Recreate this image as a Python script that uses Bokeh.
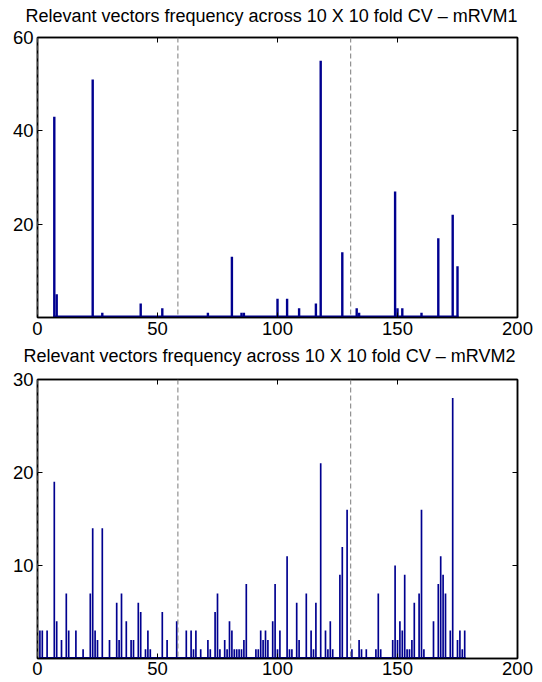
from bokeh.plotting import figure
from bokeh.layouts import column
from bokeh.models import Range1d, LinearAxis, FixedTicker, Span
from bokeh.embed import file_html
from bokeh.resources import INLINE

# ---------------- data ----------------
titles = [
    "Relevant vectors frequency across 10 X 10 fold CV \u2013 mRVM1",
    "Relevant vectors frequency across 10 X 10 fold CV \u2013 mRVM2",
]

top_idx = [7, 8, 23, 27, 43, 52, 71, 81, 85, 86, 100, 104, 109, 116, 118,
           127, 133, 134, 149, 150, 152, 160, 167, 173, 175]
top_val = [43, 5, 51, 1, 3, 2, 1, 13, 1, 1, 4, 4, 2, 3, 55,
           14, 2, 1, 27, 2, 2, 1, 17, 22, 11]

bot_idx = [1, 2, 4, 7, 8, 10, 12, 13, 16, 19, 22, 23, 24, 25, 27, 30, 33, 34,
           35, 37, 39, 40, 42, 43, 45, 46, 47, 52, 54, 58, 62, 64, 65, 66, 68,
           71, 72, 74, 75, 76, 78, 79, 80, 81, 82, 83, 84, 85, 86, 87, 91, 92,
           93, 94, 95, 96, 98, 99, 100, 101, 104, 105, 106, 108, 109, 112, 114,
           115, 116, 118, 120, 121, 122, 123, 126, 127, 129, 131, 134, 135, 137,
           141, 142, 143, 148, 149, 150, 151, 152, 153, 154, 155, 156, 157, 159,
           160, 161, 165, 167, 168, 169, 170, 172, 173, 175, 176, 177, 178]
bot_val = [3, 3, 3, 19, 4, 2, 7, 3, 3, 1, 7, 14, 3, 2, 14, 2, 6, 2,
           7, 4, 2, 2, 6, 5, 1, 3, 1, 5, 2, 4, 3, 3, 1, 3, 1,
           2, 1, 5, 7, 1, 2, 1, 4, 3, 1, 1, 1, 1, 2, 8, 1, 1,
           3, 2, 3, 2, 4, 8, 1, 3, 11, 1, 1, 6, 2, 7, 3,
           1, 6, 21, 3, 1, 4, 1, 9, 12, 16, 1, 2, 1, 1,
           1, 7, 1, 2, 10, 2, 4, 3, 9, 1, 1, 2, 6, 7,
           16, 1, 4, 8, 11, 9, 7, 3, 28, 2, 3, 1, 3]

boundaries = [0, 58.5, 130.5]
x_ticks = [0, 50, 100, 150, 200]
top_yticks = [20, 40, 60]
bot_yticks = [10, 20, 30]
top_ymax = 60
bot_ymax = 30

BAR = "#00008F"
FONT = "Liberation Sans"
TICK_FS = "18.5px"
TITLE_FS = "18px"


def make_panel(title, idx, vals, ymax, yticks, bar_w, base_w, height,
               border_top, border_bottom, x_standoff, title_lift,
               title_offset):
    p = figure(width=542, height=height, output_backend="svg",
               toolbar_location=None, x_range=Range1d(0, 200),
               y_range=Range1d(0, ymax),
               min_border_left=37, min_border_right=25,
               min_border_top=border_top, min_border_bottom=border_bottom)
    p.background_fill_color = "white"
    p.border_fill_color = "white"
    p.xgrid.visible = False
    p.ygrid.visible = False
    p.outline_line_color = "black"
    p.outline_line_width = 1.5

    p.title.text = title
    p.title.align = "left"
    p.title.text_font = FONT
    p.title.text_font_size = TITLE_FS
    p.title.text_font_style = "normal"
    p.title.text_color = "black"
    p.title.offset = title_offset
    p.title.standoff = 0
    p.title.padding = dict(left=0, right=0, top=0, bottom=title_lift)

    # zero baseline (zero-height bars) spanning the feature range
    p.segment(x0=[min(idx) - 0.4], x1=[max(idx) + 0.4], y0=[0], y1=[0],
              line_color=BAR, line_width=base_w)
    p.vbar(x=idx, top=vals, bottom=0, width=bar_w, fill_color=BAR,
           line_color=None)

    for b in boundaries:
        p.add_layout(Span(location=b, dimension="height",
                          line_color="#7a7a7a", line_dash="5 3",
                          line_width=1))

    for ax in (p.xaxis[0], p.yaxis[0]):
        ax.axis_line_color = "black"
        ax.axis_line_width = 1.5
        ax.major_tick_in = 5
        ax.major_tick_out = 0
        ax.minor_tick_line_color = None
        ax.major_tick_line_color = "black"
        ax.major_label_text_font = FONT
        ax.major_label_text_font_size = TICK_FS
        ax.major_label_text_color = "black"
    p.xaxis[0].ticker = FixedTicker(ticks=x_ticks)
    p.yaxis[0].ticker = FixedTicker(ticks=yticks)
    p.xaxis[0].major_label_standoff = x_standoff
    p.yaxis[0].major_label_standoff = 4

    # mirrored ticks on top and right (box on)
    top_ax = LinearAxis(ticker=FixedTicker(ticks=x_ticks))
    right_ax = LinearAxis(ticker=FixedTicker(ticks=yticks))
    for ax in (top_ax, right_ax):
        ax.axis_line_color = "black"
        ax.axis_line_width = 1.5
        ax.major_tick_in = 5
        ax.major_tick_out = 0
        ax.minor_tick_line_color = None
        ax.major_label_text_font_size = "0px"
        ax.major_label_text_color = None
        ax.major_label_standoff = 0
    p.add_layout(top_ax, "above")
    p.add_layout(right_ax, "right")
    return p


# top panel: 0..342, frame 37..317
p1 = make_panel(titles[0], top_idx, top_val, top_ymax, top_yticks,
                1.0, 4, 342, 37, 25, 4, 12, -12)
# bottom panel: 342..682, frame 379..658
p2 = make_panel(titles[1], bot_idx, bot_val, bot_ymax, bot_yticks,
                0.7, 3, 340, 37, 24, 3, 14, -14)

layout = column(p1, p2, spacing=0)
open("out.html", "w").write(file_html(layout, INLINE))
